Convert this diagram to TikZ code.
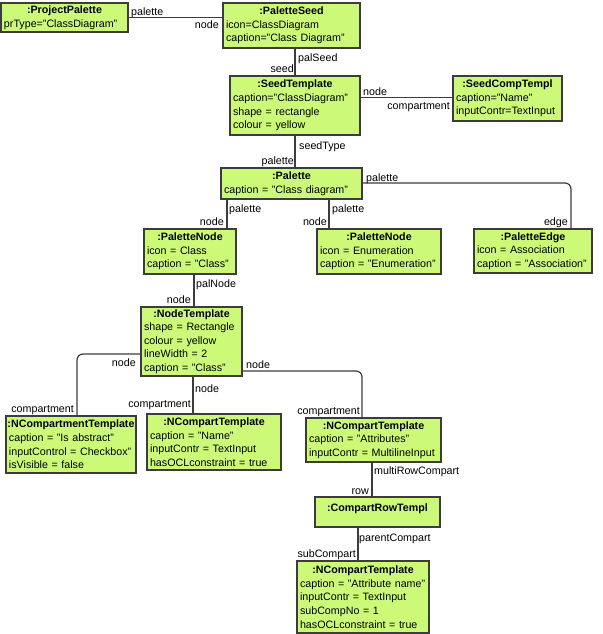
\documentclass[tikz,border=0pt]{standalone}
\usepackage{fontspec}
\setmainfont{Liberation Sans}
\setlength\parindent{0pt}
\definecolor{boxfill}{RGB}{204,250,120}
\definecolor{edgecol}{RGB}{60,60,60}
\newcommand\ttl[1]{\makebox[\hsize][c]{\bfseries #1}}
\newcommand\attr[1]{\mbox{#1}}
\begin{document}
\begin{tikzpicture}[x=1pt,y=-1pt,
  obj/.style={draw=edgecol, fill=boxfill, line width=1.3pt, inner xsep=3pt, inner ysep=0pt,
     align=left, font=\fontsize{10.7pt}{13.6pt}\selectfont},
  conn/.style={draw=edgecol, line width=1.2pt},
  lbl/.style={inner sep=0pt, font=\fontsize{10.7pt}{13pt}\selectfont}]
\useasboundingbox (0,0) rectangle (602,634);

% objects
\node[obj, text width=121pt, minimum height=29pt] (pp) at (64.5,17.5)
  {\ttl{:ProjectPalette}\\\attr{prType="ClassDiagram"}};
\node[obj, text width=131pt, minimum height=45pt] (ps) at (291.5,25.5)
  {\ttl{:PaletteSeed}\\\attr{icon=ClassDiagram}\\\attr{caption="Class Diagram"}};
\node[obj, text width=124pt, minimum height=59pt] (st) at (295,105.5)
  {\ttl{:SeedTemplate}\\\attr{caption="ClassDiagram"}\\\attr{shape = rectangle}\\\attr{colour = yellow}};
\node[obj, text width=103pt, minimum height=45pt] (sct) at (507.5,98.5)
  {\ttl{:SeedCompTempl}\\\attr{caption="Name"}\\\attr{inputContr=TextInput}};
\node[obj, text width=135pt, minimum height=31pt] (pal) at (291.5,183.5)
  {\ttl{:Palette}\\\attr{caption = "Class diagram"}};
\node[obj, text width=86pt, minimum height=45pt] (pn1) at (190,251.5)
  {\ttl{:PaletteNode}\\\attr{icon = Class}\\\attr{caption = "Class"}};
\node[obj, text width=118pt, minimum height=45pt] (pn2) at (379,251.5)
  {\ttl{:PaletteNode}\\\attr{icon = Enumeration}\\\attr{caption = "Enumeration"}};
\node[obj, text width=112pt, minimum height=44pt] (pe) at (533,251)
  {\ttl{:PaletteEdge}\\\attr{icon = Association}\\\attr{caption = "Association"}};
\node[obj, text width=95pt, minimum height=69pt] (nt) at (191.5,341.5)
  {\ttl{:NodeTemplate}\\\attr{shape = Rectangle}\\\attr{colour = yellow}\\\attr{lineWidth = 2}\\\attr{caption = "Class"}};
\node[obj, text width=124pt, minimum height=57pt] (nc1) at (71,444.5)
  {\ttl{:NCompartmentTemplate}\\\attr{caption = "Is abstract"}\\\attr{inputControl = Checkbox"}\\\attr{isVisible = false}};
\node[obj, text width=128pt, minimum height=56pt] (nc2) at (214,442)
  {\ttl{:NCompartTemplate}\\\attr{caption = "Name"}\\\attr{inputContr = TextInput}\\\attr{hasOCLconstraint = true}};
\node[obj, text width=129pt, minimum height=44pt] (nc3) at (373.5,440)
  {\ttl{:NCompartTemplate}\\\attr{caption = "Attributes"}\\\attr{inputContr = MultilineInput}};
\node[obj, text width=119pt, minimum height=30pt, text depth=8pt] (crt) at (377.5,512)
  {\ttl{:CompartRowTempl}};
\node[obj, text width=126pt, minimum height=72pt] (nc4) at (363,597)
  {\ttl{:NCompartTemplate}\\\attr{caption = "Attribute name"}\\\attr{inputContr = TextInput}\\\attr{subCompNo = 1}\\\attr{hasOCLconstraint = true}};

% helper coordinates
\coordinate (b1) at (571,183);
\coordinate (b2) at (77,354);
\coordinate (b3) at (362,371);
\coordinate (v1) at (227,0);
\coordinate (v2) at (329,0);
\coordinate (v3) at (194,0);
\coordinate (v4) at (193,0);
\coordinate (v5) at (372,0);
\coordinate (v6) at (358,0);
\coordinate (h1) at (0,97.5);

% connectors
\draw[conn] (pp.east) -- (pp.east -| ps.west);
\draw[conn] (st.north |- ps.south) -- (st.north);
\draw[conn] (st.east |- h1) -- (sct.west |- h1);
\draw[conn] (st.south) -- (st.south |- pal.north);
\draw[conn, rounded corners=6pt] (pal.east |- b1) -| (pe.north -| b1);
\draw[conn] (pal.south -| v1) -- (pn1.north -| v1);
\draw[conn] (pal.south -| v2) -- (pn2.north -| v2);
\draw[conn] (pn1.south -| v3) -- (nt.north -| v3);
\draw[conn, rounded corners=6pt] (nt.west |- b2) -| (nc1.north -| b2);
\draw[conn] (nt.south -| v4) -- (nc2.north -| v4);
\draw[conn, rounded corners=6pt] (nt.east |- b3) -| (nc3.north -| b3);
\draw[conn] (nc3.south -| v5) -- (crt.north -| v5);
\draw[conn] (crt.south -| v6) -- (nc4.north -| v6);

% role labels
\node[lbl, anchor=base west] (l1) at (131,16) {palette};
\node[lbl, anchor=base east] (l2) at (219,29) {node};
\node[lbl, anchor=base west] (l3) at (298,61) {palSeed};
\node[lbl, anchor=base east] (l4) at (294,73) {seed};
\node[lbl, anchor=base west] (l5) at (363,95.5) {node};
\node[lbl, anchor=base east] (l6) at (450,109) {compartment};
\node[lbl, anchor=base west] (l7) at (299,149) {seedType};
\node[lbl, anchor=base east] (l8) at (294,164) {palette};
\node[lbl, anchor=base west] (l9) at (366,181) {palette};
\node[lbl, anchor=base east] (l10) at (568,225) {edge};
\node[lbl, anchor=base west] (l11) at (229,212) {palette};
\node[lbl, anchor=base east] (l12) at (224,225) {node};
\node[lbl, anchor=base west] (l13) at (332,212) {palette};
\node[lbl, anchor=base east] (l14) at (327,225) {node};
\node[lbl, anchor=base west] (l15) at (196,287) {palNode};
\node[lbl, anchor=base east] (l16) at (191,303) {node};
\node[lbl, anchor=base east] (l17) at (136,366) {node};
\node[lbl, anchor=base east] (l18) at (74,412) {compartment};
\node[lbl, anchor=base west] (l19) at (195,392) {node};
\node[lbl, anchor=base east] (l20) at (191,407) {compartment};
\node[lbl, anchor=base west] (l21) at (246,368.5) {node};
\node[lbl, anchor=base east] (l22) at (360,414) {compartment};
\node[lbl, anchor=base west] (l23) at (374,474.5) {multiRowCompart};
\node[lbl, anchor=base east] (l24) at (369,494) {row};
\node[lbl, anchor=base west] (l25) at (359,541.5) {parentCompart};
\node[lbl, anchor=base east] (l26) at (356,557) {subCompart};
\end{tikzpicture}
\end{document}
